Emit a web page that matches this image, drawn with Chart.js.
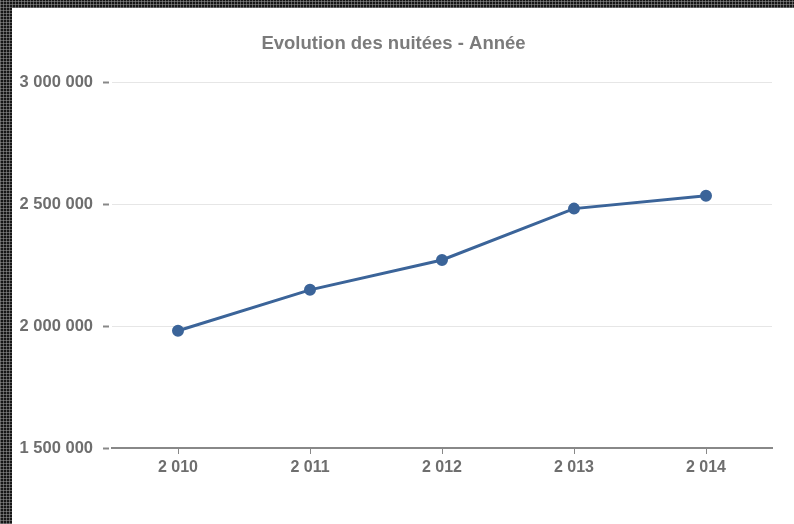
<!DOCTYPE html>
<html>
<head>
<meta charset="utf-8">
<style>
  html, body { margin: 0; padding: 0; background: #fff; }
  #wrap { position: relative; width: 794px; height: 524px; overflow: hidden; }
  canvas { position: absolute; left: 0; top: 0; }
  .edge {
    position: absolute;
    background-color: #161616;
    background-image:
      repeating-linear-gradient(90deg, rgba(160,160,160,0.5) 0 1px, transparent 1px 3px),
      repeating-linear-gradient(0deg, rgba(160,160,160,0.5) 0 1px, transparent 1px 3px);
  }
  #edge-left { left: 0; top: 0; width: 12px; height: 524px; }
  #edge-top { left: 0; top: 0; width: 794px; height: 8px; }
</style>
<script src="https://cdn.jsdelivr.net/npm/chart.js@4/dist/chart.umd.min.js"></script>
</head>
<body>
<div id="wrap">
  <canvas id="chart" width="794" height="524"></canvas>
  <div class="edge" id="edge-left"></div>
  <div class="edge" id="edge-top"></div>
</div>
<script>
// Nights per year
const years = [2010, 2011, 2012, 2013, 2014];
const nights = [1981000, 2148500, 2271000, 2481600, 2534800];
const yTicks = [1500000, 2000000, 2500000, 3000000];

const TEXT = '#6e6e6e';
const LINE = '#3b6499';

function spaced(n) {
  return String(n).replace(/\B(?=(\d{3})+(?!\d))/g, ' ');
}

new Chart(document.getElementById('chart'), {
  type: 'line',
  data: {
    labels: years.map(spaced),
    datasets: [{
      data: nights,
      borderColor: LINE,
      backgroundColor: LINE,
      borderWidth: 3,
      pointRadius: 4.5,
      pointHoverRadius: 4.5,
      tension: 0,
    }],
  },
  options: {
    responsive: false,
    animation: false,
    devicePixelRatio: 1,
    // left padding shifts the centred title to where the reference has it
    layout: { padding: { left: 15, right: 22, top: 0, bottom: 0 } },
    plugins: {
      legend: { display: false },
      tooltip: { enabled: false },
      title: {
        display: true,
        text: 'Evolution des nuitées - Année',
        color: '#7b7b7b',
        font: { family: 'Liberation Sans', size: 18.5, weight: 'bold' },
        padding: { top: 33, bottom: 27 },
      },
    },
    scales: {
      x: {
        offset: true,
        afterFit(scale) { scale.height = 76; },
        grid: { drawOnChartArea: false, tickLength: 6, color: '#888', lineWidth: 1 },
        border: { color: '#888', width: 2 },
        ticks: {
          color: TEXT,
          padding: 4,
          font: { family: 'Liberation Sans', size: 16, weight: 'bold' },
        },
      },
      y: {
        min: 1500000,
        max: 3000000,
        afterFit(scale) { scale.width = 97; },
        afterBuildTicks(scale) { scale.ticks = yTicks.map((v) => ({ value: v })); },
        grid: {
          color: '#e6e6e6',
          lineWidth: 1,
          tickLength: 9,
          tickColor: '#888',
          tickWidth: 2,
          tickBorderDash: [6, 3],
        },
        border: { display: false },
        ticks: {
          color: TEXT,
          padding: 10,
          font: { family: 'Liberation Sans', size: 16.5, weight: 'bold' },
          callback: (v) => spaced(v),
        },
      },
    },
  },
});
</script>
</body>
</html>
